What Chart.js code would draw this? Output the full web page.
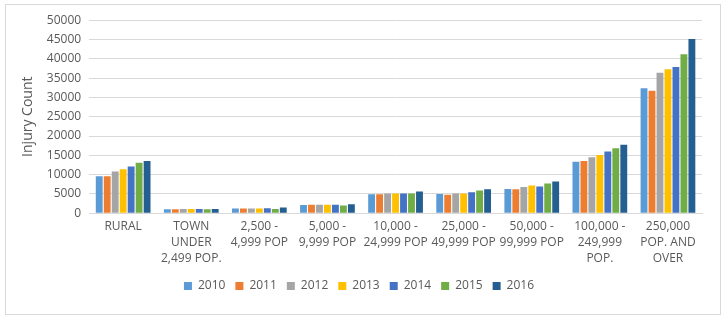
<!DOCTYPE html>
<html lang="en">
<head>
    <meta charset="UTF-8">
    <title>Injury Count</title>
    <script src="https://cdn.jsdelivr.net/npm/chart.js@4.4.0/dist/chart.umd.min.js"></script>
    <style>
        body { margin: 0; background: white; }
        #box {
            position: absolute; left: 5px; top: 4px;
            width: 714px; height: 309px;
            border: 1px solid #d9d9d9;
        }
    </style>
</head>
<body>
    <div id="box"><canvas id="myChart" width="714" height="309"></canvas></div>
    <script>
        // categories (multi-line labels as in the original)
        const categories = [
            ['RURAL'],
            ['TOWN', 'UNDER', '2,499 POP.'],
            ['2,500 -', '4,999 POP'],
            ['5,000 -', '9,999 POP'],
            ['10,000 -', '24,999 POP'],
            ['25,000 -', '49,999 POP'],
            ['50,000 -', '99,999 POP'],
            ['100,000 -', '249,999', 'POP.'],
            ['250,000', 'POP. AND', 'OVER']
        ];
        const years = ['2010', '2011', '2012', '2013', '2014', '2015', '2016'];
        const v2010 = [9600, 1000, 1200, 2100, 4900, 5000, 6300, 13300, 32400];
        const v2011 = [9600, 1000, 1200, 2200, 4900, 4800, 6200, 13500, 31700];
        const v2012 = [10800, 1100, 1200, 2200, 5100, 5100, 6800, 14500, 36400];
        const v2013 = [11400, 1100, 1200, 2200, 5100, 5100, 7200, 15100, 37300];
        const v2014 = [12100, 1100, 1300, 2200, 5100, 5400, 6900, 16000, 37900];
        const v2015 = [13100, 1000, 1100, 2000, 5100, 5900, 7700, 16800, 41200];
        const v2016 = [13500, 1100, 1500, 2300, 5600, 6200, 8200, 17750, 45100];
        const colors = ['#5b9bd5', '#ed7d31', '#a5a5a5', '#ffc000', '#4472c4', '#70ad47', '#255e91'];
        const series = [v2010, v2011, v2012, v2013, v2014, v2015, v2016];

        const fontFam = "'Open Sans', 'Noto Sans', sans-serif";
        var ctx = document.getElementById('myChart').getContext('2d');
        var myChart = new Chart(ctx, {
            type: 'bar',
            data: {
                labels: categories,
                datasets: series.map(function (s, i) {
                    return {
                        label: years[i],
                        data: s,
                        backgroundColor: colors[i],
                        categoryPercentage: 0.82,
                        barPercentage: 0.86
                    };
                })
            },
            options: {
                responsive: false,
                animation: false,
                layout: { padding: { left: 10, right: 18, top: 8, bottom: 12 } },
                scales: {
                    x: {
                        grid: { display: false },
                        border: { color: '#d9d9d9' },
                        ticks: {
                            color: '#595959',
                            font: { family: fontFam, size: 12, lineHeight: 1.3 },
                            maxRotation: 0,
                            autoSkip: false,
                            padding: -2
                        },
                        // a bit more room between the labels and the legend
                        afterFit: function (scale) { scale.height += 6; }
                    },
                    y: {
                        min: 0,
                        max: 50000,
                        grid: { color: '#d9d9d9', drawTicks: false },
                        border: { display: false },
                        ticks: {
                            stepSize: 5000,
                            color: '#595959',
                            font: { family: fontFam, size: 12 },
                            padding: 8,
                            callback: function (v) { return String(v); }
                        },
                        title: {
                            display: true,
                            text: 'Injury Count',
                            color: '#595959',
                            font: { family: fontFam, size: 14 },
                            padding: { bottom: 2 }
                        }
                    }
                },
                plugins: {
                    tooltip: { enabled: false },
                    legend: {
                        position: 'bottom',
                        labels: {
                            boxWidth: 8,
                            boxHeight: 8,
                            padding: 10,
                            color: '#595959',
                            font: { family: fontFam, size: 12 }
                        }
                    }
                }
            }
        });
    </script>
</body>
</html>
